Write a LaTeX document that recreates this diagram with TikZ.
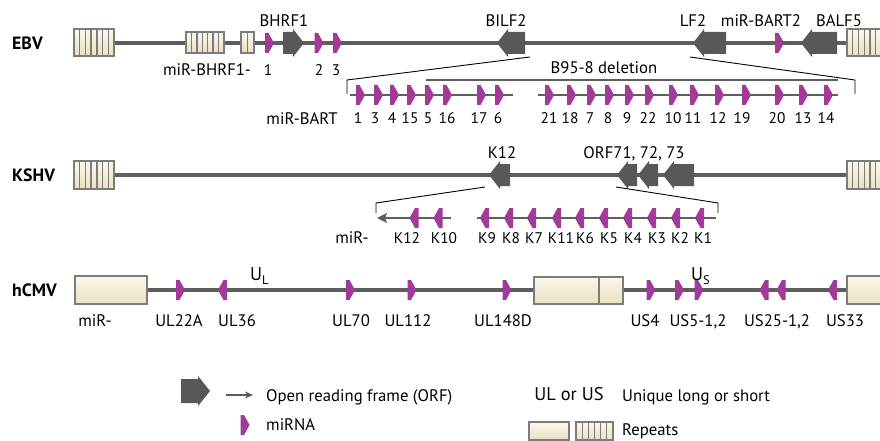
\documentclass[tikz,border=0pt]{standalone}
\usepackage{fontspec}
\setmainfont{PT Sans}
\usetikzlibrary{arrows.meta}

\definecolor{chrom}{HTML}{5E5E5E}
\definecolor{orfgray}{HTML}{58585A}
\definecolor{mirna}{HTML}{A23A97}
\definecolor{creamtop}{HTML}{FCF9EC}
\definecolor{creambot}{HTML}{E9E0C1}
\definecolor{edgegray}{HTML}{7C7C7C}

\tikzset{
  chromline/.style={draw=chrom, line width=4.5pt},
  clusterline/.style={draw=chrom, line width=2.6pt},
  zoomline/.style={draw=black, line width=0.9pt},
  txt/.style={inner sep=0pt, text height=11.7pt, text depth=0pt, font=\fontsize{16.7}{20}\selectfont},
  numtxt/.style={txt, text height=11pt, font=\fontsize{15.4}{20}\selectfont},
  bigtxt/.style={txt, text height=12.8pt, font=\fontsize{18.4}{20}\selectfont},
  genome/.style={inner sep=0pt, anchor=west, text height=12.4pt, text depth=0pt, font=\bfseries\fontsize{17.8}{20}\selectfont},
  stripe/.style={draw=edgegray, line width=1.3pt},
  pics/mirfwd/.style={code={\fill[mirna] (-4.5,-10) -- (-1,-10) -- (4.5,0) -- (-1,10) -- (-4.5,10) -- cycle;}},
  pics/mirrev/.style={code={\fill[mirna] (4.5,-10) -- (1,-10) -- (-4.5,0) -- (1,10) -- (4.5,10) -- cycle;}},
}

% open reading frames: start, end, baseline y
\newcommand\orffwd[3]{\fill[orfgray] (#1,#3-11) -- (#2-11,#3-11) -- (#2-11,#3-14) -- (#2,#3) -- (#2-11,#3+14) -- (#2-11,#3+11) -- (#1,#3+11) -- cycle;}
\newcommand\orfrev[3]{\fill[orfgray] (#2,#3-11) -- (#1+11,#3-11) -- (#1+11,#3-14) -- (#1,#3) -- (#1+11,#3+14) -- (#1+11,#3+11) -- (#2,#3+11) -- cycle;}

% striped repeat region: x0, x1, y0, y1, number of cells
\newcommand\repeatbox[5]{%
  \shade[top color=creamtop, bottom color=creambot] (#1,#3) rectangle (#2,#4);
  \foreach \k in {1,...,#5}{\ifnum\k<#5 \draw[stripe] ({#1+\k*(#2-#1)/#5},#3) -- ({#1+\k*(#2-#1)/#5},#4);\fi}
  \draw[edgegray, line width=1.3pt] (#1,#3) rectangle (#2,#4);
}
% plain unique region box: x0, x1, y0, y1
\newcommand\uniquebox[4]{%
  \shade[top color=creamtop, bottom color=creambot] (#1,#3) rectangle (#2,#4);
  \draw[edgegray, line width=1.3pt] (#1,#3) rectangle (#2,#4);
}

\begin{document}
\begin{tikzpicture}[x=1pt, y=-1pt]
\useasboundingbox (0,0) rectangle (880,441);
\fill[white] (0,0) rectangle (880,441);

% ---------------- EBV ----------------
\node[genome] (ebv) at (12,43) {EBV};
\coordinate (ebvL) at (90,43);
\coordinate (ebvR) at (870,43);
\draw[chromline] (ebvL) -- (ebvR);
\repeatbox{74}{114}{29}{56}{7}
\repeatbox{186}{224}{32}{53}{7}
\repeatbox{241}{254}{32}{53}{2}
\repeatbox{847}{887}{29}{56}{7}

\pic at (269.5,43) {mirfwd};
\pic at (319,43) {mirfwd};
\pic at (337.5,43) {mirfwd};
\pic at (779.5,43) {mirfwd};

\orffwd{283}{304}{43}
\orfrev{497}{525}{43}
\orfrev{693}{726}{43}
\orfrev{801}{837}{43}

\node[txt] (bhrf1) at (284,21) {BHRF1};
\node[txt] (bilf2) at (506,21) {BILF2};
\node[txt] (lf2) at (693,21) {LF2};
\node[txt] (bart2) at (761,21) {miR-BART2};
\node[txt] (balf5) at (839,21) {BALF5};

\node[txt] (bhrfmir) at (207,70) {miR-BHRF1-};
\node[numtxt] (bh1) at (268,70) {1};
\node[numtxt] (bh2) at (319,70) {2};
\node[numtxt] (bh3) at (336,70) {3};

% expansion of the BART region
\coordinate (bilfEnd) at (530,57);
\coordinate (lfStart) at (690,57);
\coordinate (bartTL) at (347,80);
\coordinate (bartBL) at (347,94);
\coordinate (bartTR) at (855,80);
\coordinate (bartBR) at (855,94);
\draw[zoomline] (bilfEnd) -- (bartTL) -- (bartBL);
\draw[zoomline] (lfStart) -- (bartTR) -- (bartBR);

\coordinate (delL) at (426,80);
\coordinate (delR) at (838,80);
\draw[clusterline] (delL) -- (delR);
\node[txt] (deletion) at (604,68) {B95-8 deletion};

\coordinate (c1a) at (350,95);
\coordinate (c1b) at (513,95);
\coordinate (c2a) at (538,95);
\coordinate (c2b) at (838,95);
\draw[clusterline] (c1a) -- (c1b);
\draw[clusterline] (c2a) -- (c2b);

\foreach \m/\t/\lx in {360.5/1/358, 378.5/3/375, 394.5/4/392, 411.5/15/410, 429.5/5/428, 447.5/16/447, 481.5/17/479, 499.5/6/498,
  549.5/21/549, 571.5/18/570, 591.5/7/590, 609.5/8/608, 629.5/9/627, 649.5/22/648, 673.5/10/673, 694.5/11/693, 719.5/12/718, 746.5/19/742, 779.5/20/777, 803.5/13/803, 828.5/14/826}{
  \pic at (\m,95) {mirfwd};
  \node[numtxt] (bart-\t) at (\lx,118.5) {\t};
}
\node[txt] (bartname) at (302,118.5) {miR-BART};

% ---------------- KSHV ----------------
\node[genome] (kshv) at (12,175) {KSHV};
\coordinate (kshvL) at (100,175);
\coordinate (kshvR) at (860,175);
\draw[chromline] (kshvL) -- (kshvR);
\repeatbox{74}{114}{161}{189}{7}
\repeatbox{847}{887}{161}{189}{7}

\orfrev{489}{510}{175}
\orfrev{617}{637}{175}
\orfrev{638}{658}{175}
\orfrev{663}{694}{175}

\node[txt] (k12orf) at (502,153) {K12};
\node[txt] (orf7173) at (634,153) {ORF71, 72, 73};

\coordinate (k12Start) at (485,187);
\coordinate (orf71Start) at (616,187);
\coordinate (kTL) at (376,203);
\coordinate (kBL) at (376,213);
\coordinate (kTR) at (718,203);
\coordinate (kBR) at (718,213);
\draw[zoomline] (k12Start) -- (kTL) -- (kBL);
\draw[zoomline] (orf71Start) -- (kTR) -- (kBR);

\coordinate (k1a) at (451,218);
\coordinate (k1b) at (377,218);
\coordinate (k2a) at (477,218);
\coordinate (k2b) at (716,218);
\draw[clusterline, -{Stealth[length=10pt, width=10pt, inset=2pt]}] (k1a) -- (k1b);
\draw[clusterline] (k2a) -- (k2b);

\foreach \m/\t/\lx in {414/K12/407, 438/K10/444, 484.5/K9/487, 508.5/K8/511, 531.5/K7/534, 556.5/K11/561, 579.5/K6/585, 603.5/K5/609, 627.5/K4/633, 651.5/K3/657, 675.5/K2/680, 699.5/K1/703}{
  \pic at (\m,218) {mirrev};
  \node[numtxt] (kmir-\t) at (\lx,238) {\t};
}
\node[txt] (kmirname) at (352,238) {miR-};

% ---------------- hCMV ----------------
\node[genome] (hcmv) at (12,290) {hCMV};
\coordinate (hcmvL) at (100,290);
\coordinate (hcmvR) at (860,290);
\draw[chromline] (hcmvL) -- (hcmvR);
\uniquebox{75}{147}{276}{304}
\uniquebox{534}{623}{277}{304}
\draw[edgegray, line width=1.3pt] (599,277) -- (599,304);
\uniquebox{847}{890}{276}{304}

\foreach \m in {180.5, 350.5, 412, 507, 651, 679.5, 699}{\pic at (\m,290) {mirfwd};}
\foreach \m in {222.5, 764, 781, 832.5}{\pic at (\m,290) {mirrev};}

\node[txt] (hmir) at (95,321) {miR-};
\node[txt] (ul22a) at (179,321) {UL22A};
\node[txt] (ul36) at (237,321) {UL36};
\node[txt] (ul70) at (351,321) {UL70};
\node[txt] (ul112) at (408,321) {UL112};
\node[txt] (ul148d) at (503,321) {UL148D};
\node[txt] (us4) at (645,321) {US4};
\node[txt] (us5) at (698,321) {US5-1,2};
\node[txt] (us25) at (777,321) {US25-1,2};
\node[txt] (us33) at (845,321) {US33};

\node[bigtxt, anchor=west] (ulabel) at (250,274) {U\raisebox{-4pt}{\fontsize{12.5}{12}\selectfont L}};
\node[bigtxt, anchor=west] (uslabel) at (691,274) {U\raisebox{-4pt}{\fontsize{12.5}{12}\selectfont S}};

% ---------------- legend ----------------
\fill[orfgray] (181,379) -- (198,379) -- (198,376) -- (210,391) -- (198,406) -- (198,403) -- (181,403) -- cycle;
\coordinate (legArrA) at (226,395);
\coordinate (legArrB) at (253,395);
\draw[draw=chrom, line width=1.8pt, -{Stealth[length=8pt, width=7pt]}] (legArrA) -- (legArrB);
\node[txt, anchor=west] (legorf) at (266,396) {Open reading frame (ORF)};

\pic at (245,425) {mirfwd};
\node[txt, anchor=west] (legmir) at (266,425) {miRNA};

\node[bigtxt] (legul) at (569,394) {UL or US};
\node[txt, anchor=west] (leguniq) at (622,396) {Unique long or short};
\uniquebox{529}{569}{422}{440}
\repeatbox{576}{613}{422}{440}{6}
\node[txt, anchor=west] (legrep) at (622,430) {Repeats};
\end{tikzpicture}
\end{document}
